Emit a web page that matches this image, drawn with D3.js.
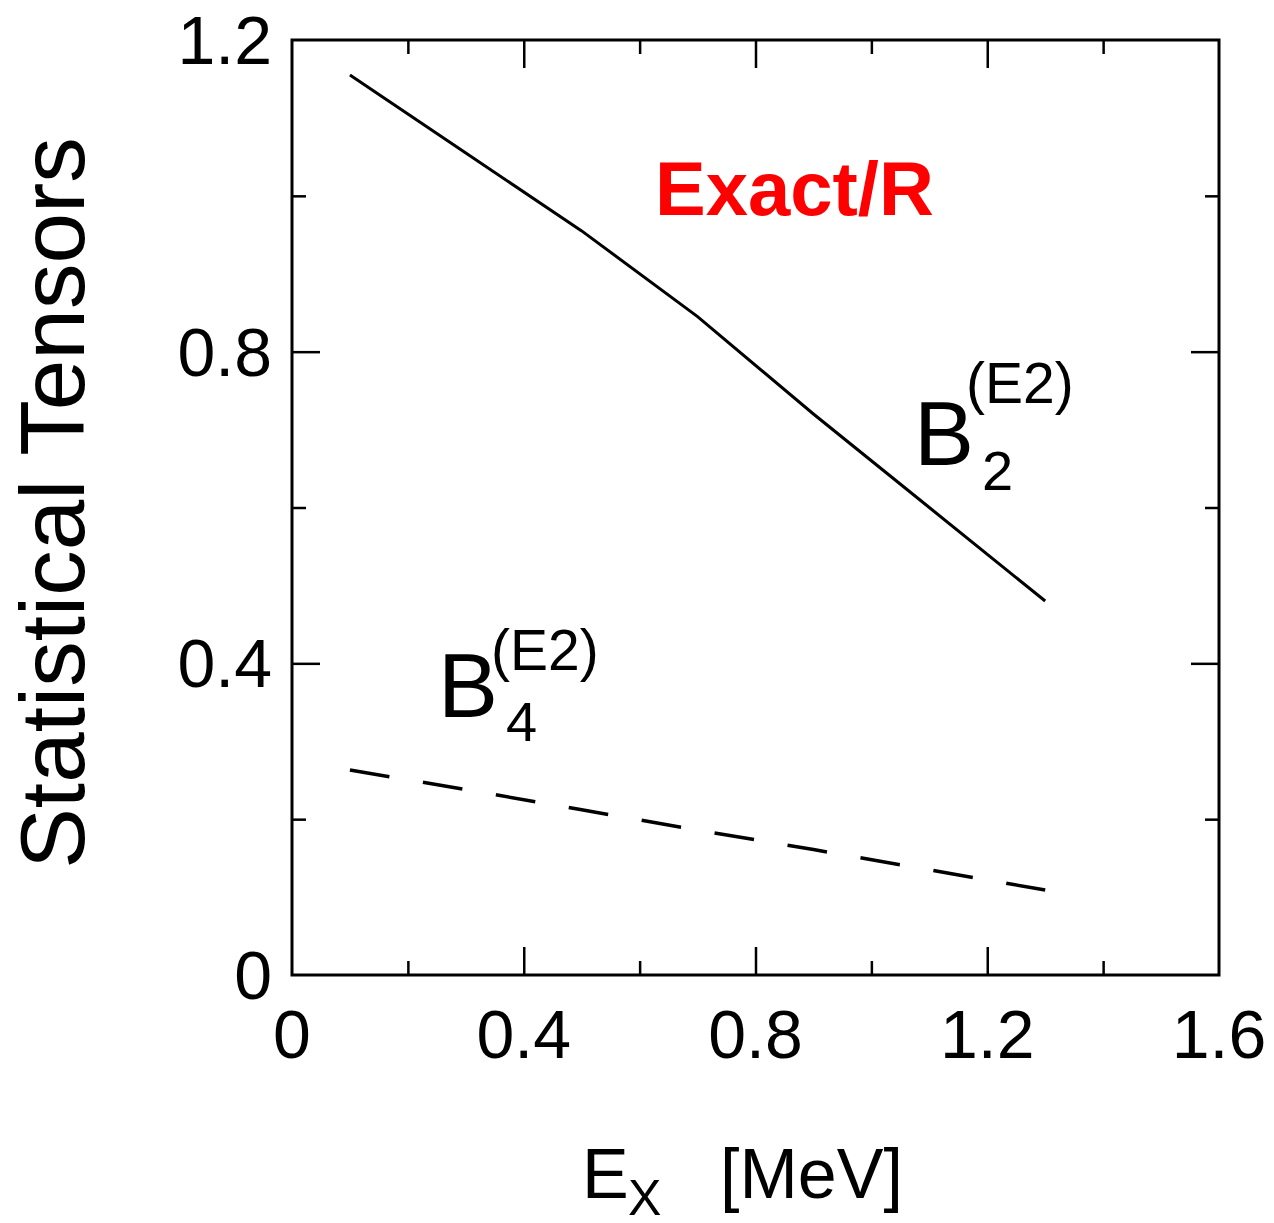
<!DOCTYPE html>
<html>
<head>
<meta charset="utf-8">
<script src="https://cdn.jsdelivr.net/npm/d3@7"></script>
<style>
  html, body { margin: 0; padding: 0; background: #fff; }
  svg { display: block; }
  text { font-family: "Liberation Sans", Arial, sans-serif; fill: #000; }
</style>
</head>
<body>
<svg id="chart" width="1274" height="1223"></svg>
<script>
// Excitation energy grid (MeV)
const energies = [0.1, 0.3, 0.5, 0.7, 0.9, 1.1, 1.3];
// Statistical tensor B2(E2) (solid) and B4(E2) (dashed)
const b2Values = [1.155, 1.055, 0.955, 0.845, 0.72, 0.60, 0.48];
const b4Values = [0.263, 0.238, 0.212, 0.186, 0.161, 0.135, 0.109];
// Axis ticks
const xMajorTicks = [0, 0.4, 0.8, 1.2, 1.6];
const xMinorTicks = [0.2, 0.6, 1.0, 1.4];
const yMajorTicks = [0, 0.4, 0.8, 1.2];
const yMinorTicks = [0.2, 0.6, 1.0];
const xTickLabels = ["0", "0.4", "0.8", "1.2", "1.6"];
const yTickLabels = ["0", "0.4", "0.8", "1.2"];

const svg = d3.select("#chart");
const plotLeft = 292, plotRight = 1219, plotTop = 40, plotBottom = 975;

const x = d3.scaleLinear().domain([0, 1.6]).range([plotLeft, plotRight]);
const y = d3.scaleLinear().domain([0, 1.2]).range([plotBottom, plotTop]);

const majorLen = 28, minorLen = 14;
const tickStyle = g => g.selectAll("line").attr("stroke", "#000").attr("stroke-width", 2.5);

// Inward ticks on all four sides
function xTicks(vals, len) {
  svg.append("g").attr("transform", `translate(0,${plotBottom})`)
    .call(d3.axisBottom(x).tickValues(vals).tickSize(-len).tickFormat(""))
    .call(g => g.select(".domain").remove()).call(tickStyle);
  svg.append("g").attr("transform", `translate(0,${plotTop})`)
    .call(d3.axisTop(x).tickValues(vals).tickSize(-len).tickFormat(""))
    .call(g => g.select(".domain").remove()).call(tickStyle);
}
function yTicks(vals, len) {
  svg.append("g").attr("transform", `translate(${plotLeft},0)`)
    .call(d3.axisLeft(y).tickValues(vals).tickSize(-len).tickFormat(""))
    .call(g => g.select(".domain").remove()).call(tickStyle);
  svg.append("g").attr("transform", `translate(${plotRight},0)`)
    .call(d3.axisRight(y).tickValues(vals).tickSize(-len).tickFormat(""))
    .call(g => g.select(".domain").remove()).call(tickStyle);
}
xTicks(xMajorTicks.slice(1, -1), majorLen);
xTicks(xMinorTicks, minorLen);
yTicks(yMajorTicks.slice(1, -1), majorLen);
yTicks(yMinorTicks, minorLen);

// Frame
svg.append("rect")
  .attr("x", plotLeft).attr("y", plotTop)
  .attr("width", plotRight - plotLeft).attr("height", plotBottom - plotTop)
  .attr("fill", "none").attr("stroke", "#000").attr("stroke-width", 3);

// Tick labels
svg.append("g").selectAll("text").data(xMajorTicks).join("text")
  .attr("x", d => x(d)).attr("y", plotBottom + 83)
  .attr("text-anchor", "middle").attr("font-size", 68)
  .text((d, i) => xTickLabels[i]);

svg.append("g").selectAll("text").data(yMajorTicks).join("text")
  .attr("x", plotLeft - 20).attr("y", d => y(d) + 24)
  .attr("text-anchor", "end").attr("font-size", 68)
  .text((d, i) => yTickLabels[i]);

// Axis titles
svg.append("text")
  .attr("transform", `translate(84,503) rotate(-90)`)
  .attr("text-anchor", "middle").attr("font-size", 91)
  .text("Statistical Tensors");

const xt = svg.append("text").attr("x", 582).attr("y", 1198).attr("font-size", 70);
xt.append("tspan").text("E");
xt.append("tspan").attr("x", 628).attr("y", 1215).attr("font-size", 50).text("X");
xt.append("tspan").attr("x", 720).attr("y", 1198).text("[MeV]");

// Curves
const line = d3.line().x(d => x(d[0])).y(d => y(d[1]));

svg.append("path")
  .datum(energies.map((e, i) => [e, b2Values[i]]))
  .attr("d", line).attr("fill", "none")
  .attr("stroke", "#000").attr("stroke-width", 3);

svg.append("path")
  .datum(energies.map((e, i) => [e, b4Values[i]]))
  .attr("d", line).attr("fill", "none")
  .attr("stroke", "#000").attr("stroke-width", 3.5)
  .attr("stroke-dasharray", "40,34");

// Curve labels: B with subscript rank and (E2) superscript
function tensorLabel(px, py, sub, subY, supX, supY) {
  const t = svg.append("text");
  t.append("tspan").attr("x", px).attr("y", py).attr("font-size", 90).text("B");
  t.append("tspan").attr("x", px + 68).attr("y", subY).attr("font-size", 56).text(sub);
  t.append("tspan").attr("x", supX).attr("y", supY).attr("font-size", 57).text("(E2)");
}
tensorLabel(914, 465, "2", 490, 966, 403);
tensorLabel(438, 717, "4", 741, 491, 670);

// Method tag
svg.append("text")
  .attr("x", 655).attr("y", 215)
  .style("font-family", "'Comic Sans MS', 'Liberation Sans', sans-serif")
  .attr("font-weight", "bold").attr("font-size", 76)
  .style("fill", "#ff0000")
  .text("Exact/R");
</script>
</body>
</html>
